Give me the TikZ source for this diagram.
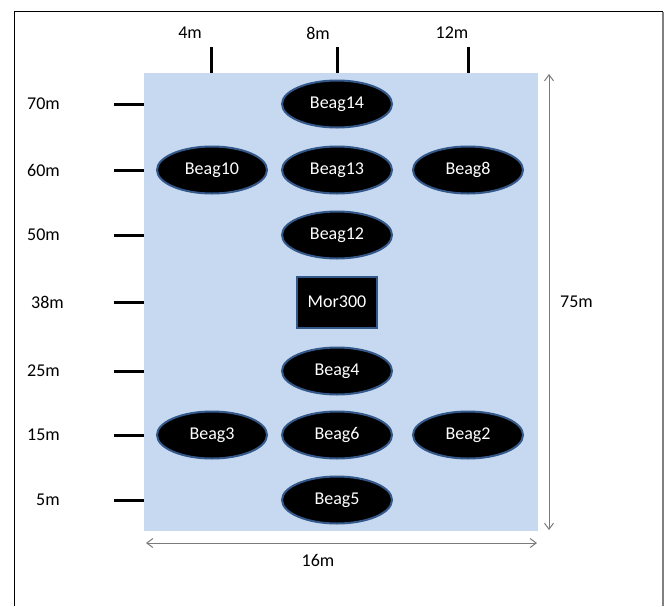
\documentclass[tikz,border=0pt]{standalone}
\usepackage{fontspec}
\setmainfont{Carlito}
\usetikzlibrary{shapes.geometric,arrows.meta}
\definecolor{field}{HTML}{C6D9F0}
\definecolor{rim}{HTML}{34588A}
\definecolor{dimgray}{HTML}{7A7A7A}
\tikzset{
  beag/.style={ellipse,fill=black,draw=rim,line width=2pt,minimum width=110pt,minimum height=47pt,inner sep=0pt,text=white,font=\fontsize{18}{20}\selectfont},
  mor/.style={rectangle,fill=black,draw=rim,line width=2pt,minimum width=80pt,minimum height=51pt,inner sep=0pt,text=white,font=\fontsize{18}{20}\selectfont},
  lbl/.style={font=\fontsize{18}{20}\selectfont,text=black,inner sep=0pt},
  tick/.style={line width=3pt,black},
  dimline/.style={dimgray,line width=1pt,{Straight Barb[length=6pt,width=9pt]}-{Straight Barb[length=6pt,width=9pt]}},
  frame/.style={line width=1.5pt}
}
\begin{document}
\begin{tikzpicture}[x=1pt,y=-1pt]
\useasboundingbox (0,0) rectangle (667,606);
% frame
\coordinate (f1) at (14.5,606);
\coordinate (f2) at (14.5,11.5);
\coordinate (f3) at (663,11.5);
\coordinate (f4) at (663,606);
\draw[frame,black] (f1) -- (f2) -- (f3);
\draw[frame,gray] (f3) -- (f4);
% field
\fill[field] (144,73) rectangle (538,531);
% top ticks
\foreach \x/\t/\n in {211/4m/a,337/8m/b,468/12m/c}{
  \coordinate (tt\n) at (\x,47);
  \coordinate (tb\n) at (\x,73);
  \draw[tick] (tt\n) -- (tb\n);
}
\node[lbl] (l4) at (190,33) {4m};
\node[lbl] (l8) at (318,33) {8m};
\node[lbl] (l12) at (452,33) {12m};
% left ticks
\foreach \y/\n in {104/a,170/b,235/c,302/d,371/e,435/f,500/g}{
  \coordinate (ll\n) at (114,\y);
  \coordinate (lr\n) at (144,\y);
  \draw[tick] (ll\n) -- (lr\n);
}
\node[lbl,anchor=west] (y70) at (27,104) {70m};
\node[lbl,anchor=west] (y60) at (27,170) {60m};
\node[lbl,anchor=west] (y50) at (27,235) {50m};
\node[lbl,anchor=west] (y38) at (31,302) {38m};
\node[lbl,anchor=west] (y25) at (27,371) {25m};
\node[lbl,anchor=west] (y15) at (27,435) {15m};
\node[lbl,anchor=west] (y5) at (36,500) {5m};
% nodes
\node[beag] (b14) at (337,104) {Beag14};
\node[beag] (b10) at (212,170) {Beag10};
\node[beag] (b13) at (337,170) {Beag13};
\node[beag] (b8) at (468,170) {Beag8};
\node[beag] (b12) at (337,235) {Beag12};
\node[mor] (m300) at (337,302) {Mor300};
\node[beag] (b4) at (337,371) {Beag4};
\node[beag] (b3) at (212,435) {Beag3};
\node[beag] (b6) at (337,435) {Beag6};
\node[beag] (b2) at (468,435) {Beag2};
\node[beag] (b5) at (337,500) {Beag5};
% dimensions
\coordinate (vt) at (549,74);
\coordinate (vb) at (549,530);
\draw[dimline] (vt) -- (vb);
\node[lbl,anchor=west] (d75) at (560,302) {75m};
\coordinate (hl) at (146,543);
\coordinate (hr) at (537,543);
\draw[dimline] (hl) -- (hr);
\node[lbl] (d16) at (318,560) {16m};
\end{tikzpicture}
\end{document}
